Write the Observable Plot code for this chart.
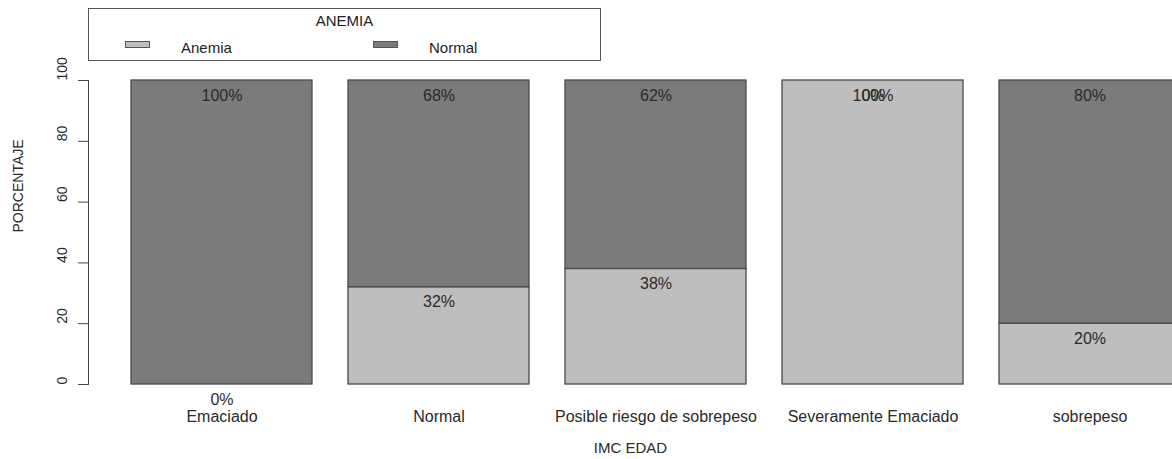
<!DOCTYPE html>
<html><head><meta charset="utf-8">
<script src="https://cdn.jsdelivr.net/npm/d3@7"></script>
<script src="https://cdn.jsdelivr.net/npm/@observablehq/plot@0.6"></script>
<style>
html,body{margin:0;padding:0;background:#fff;overflow:hidden;}
#wrap{position:relative;width:1172px;height:459px;font-family:"Liberation Sans",Arial,sans-serif;color:#222;}
#legend{position:absolute;left:88px;top:8px;width:513px;height:53px;border:1px solid #555;box-sizing:border-box;}
#legend .title{position:absolute;left:0;right:0;top:3px;text-align:center;font-size:15px;}
#legend .item{position:absolute;top:30px;font-size:15px;line-height:18px;}
#legend .sw{position:absolute;top:4px;width:25px;height:7px;border:1px solid #555;box-sizing:border-box;}
</style></head><body><div id="wrap"></div>
<script>
const categories = ["Emaciado","Normal","Posible riesgo de sobrepeso","Severamente Emaciado","sobrepeso"];
const anemiaPct = [0, 32, 38, 100, 20];
const normalPct = [100, 68, 62, 0, 80];
const groups = ["Anemia","Normal"];
const groupColors = ["#bebebe","#7b7b7b"];
const yTicks = [0, 20, 40, 60, 80, 100];
const xTitle = "IMC EDAD";
const yTitle = "PORCENTAJE";
const legendTitle = "ANEMIA";

const rows = [];
categories.forEach((c, i) => {
  const vals = [anemiaPct[i], normalPct[i]];
  let acc = 0;
  groups.forEach((g, j) => {
    rows.push({cat: c, group: g, value: vals[j], y1: acc, y2: acc + vals[j]});
    acc += vals[j];
  });
});

const font = '"Liberation Sans", Arial, sans-serif';
const chart = Plot.plot({
  width: 1172, height: 459,
  marginLeft: 88, marginRight: 0, marginTop: 80, marginBottom: 75,
  style: {fontFamily: font, fontSize: "16px", color: "#2a2a2a", background: "transparent", overflow: "visible"},
  x: {type: "band", domain: categories, range: [88, 1222], paddingInner: 1/6, paddingOuter: 0.1933},
  y: {domain: [0, 100]},
  color: {domain: groups, range: groupColors},
  marks: [
    Plot.barY(rows, {x: "cat", y1: "y1", y2: "y2", fill: "group", stroke: "#4a4a4a", strokeWidth: 1.3}),
    Plot.text(rows, {x: "cat", y: "y2", text: d => d.value + "%", dy: 15, fontSize: 16, fill: "#2a2a2a"}),
    Plot.axisX({tickSize: 0, tickPadding: 26, label: null, fontSize: 16}),
    Plot.frame({anchor: "left", stroke: "#444"}),
    Plot.axisY({ticks: yTicks, tickSize: 10, tickFormat: () => "", label: null, stroke: "#444"}),
    Plot.text(yTicks, {y: d => d, text: d => String(d), frameAnchor: "left", dx: -26, rotate: -90, fontSize: 14}),
    Plot.text([xTitle], {frameAnchor: "bottom", dy: 68, fontSize: 15}),
    Plot.text([yTitle], {frameAnchor: "left", dx: -70, rotate: -90, fontSize: 14})
  ]
});
const wrap = document.getElementById("wrap");
wrap.appendChild(chart);

const legend = document.createElement("div");
legend.id = "legend";
let html = `<div class="title">${legendTitle}</div>`;
const itemX = [36, 284];
groups.forEach((g, i) => {
  html += `<div class="sw" style="left:${itemX[i]}px;top:32px;background:${groupColors[i]}"></div>`;
  html += `<div class="item" style="left:${itemX[i] + 56}px">${g}</div>`;
});
legend.innerHTML = html;
wrap.appendChild(legend);
</script>
</body></html>
